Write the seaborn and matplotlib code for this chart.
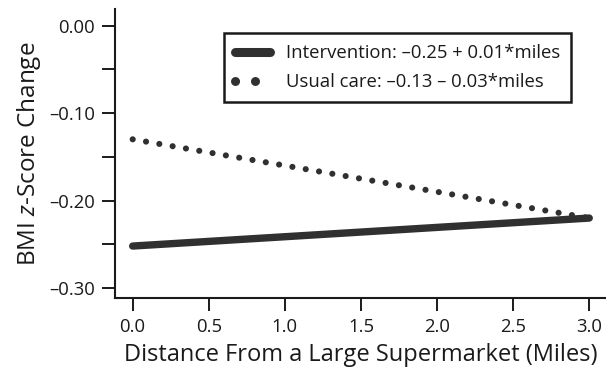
import numpy as np
import matplotlib
matplotlib.use("Agg")
import matplotlib.pyplot as plt
import seaborn as sns
import pandas as pd

# Data
miles = [0.0, 3.0]
intervention = [-0.252, -0.220]
usual_care = [-0.13, -0.22]
series_labels = ["Intervention: \u20130.25 + 0.01*miles", "Usual care: \u20130.13 \u2013 0.03*miles"]
xticks = [0.0, 0.5, 1.0, 1.5, 2.0, 2.5, 3.0]
xtick_labels = ["0.0", "0.5", "1.0", "1.5", "2.0", "2.5", "3.0"]
yticks = [0.0, -0.10, -0.20, -0.30]
ytick_labels = ["0.00", "\u20130.10", "\u20130.20", "\u20130.30"]
yminor = [-0.05, -0.15, -0.25]

sns.set_style("ticks")
plt.rcParams["font.family"] = ["Open Sans", "DejaVu Sans"]
plt.rcParams["mathtext.fontset"] = "custom"
plt.rcParams["mathtext.it"] = "Open Sans:italic"
plt.rcParams["mathtext.rm"] = "Open Sans"

df = pd.DataFrame({
    "miles": miles * 2,
    "bmi": intervention + usual_care,
    "group": [series_labels[0]] * 2 + [series_labels[1]] * 2,
})

fig = plt.figure(figsize=(6.06, 3.73), dpi=100)
ax = fig.add_axes([0.1898, 0.201, 0.8102, 0.775])

col = "#303030"
sns.lineplot(data=df[df.group == series_labels[0]], x="miles", y="bmi", ax=ax,
             color=col, linewidth=5.3, solid_capstyle="round", label=series_labels[0])
sns.lineplot(data=df[df.group == series_labels[1]], x="miles", y="bmi", ax=ax,
             color=col, linewidth=4.4, linestyle=(0, (0.01, 2.2)),
             dash_capstyle="round", label=series_labels[1])

ax.set_xlim(-0.116, 3.11)
ax.set_ylim(-0.3114, 0.019)
ax.set_xticks(xticks)
ax.set_xticklabels(xtick_labels)
ax.set_yticks(yticks)
ax.set_yticklabels(ytick_labels)
ax.set_yticks(yminor, minor=True)

for s in ["top", "right"]:
    ax.spines[s].set_visible(False)
for s in ["left", "bottom"]:
    ax.spines[s].set_linewidth(1.5)
    ax.spines[s].set_color("#1a1a1a")

ax.tick_params(axis="both", which="both", length=9.5, width=1.4, color="#1a1a1a",
               labelsize=13.3, labelcolor="#1a1a1a", direction="out")
ax.tick_params(axis="x", pad=5)
ax.tick_params(axis="y", pad=5)

ax.set_xlabel("Distance From a Large Supermarket (Miles)", fontsize=17, color="#1a1a1a", labelpad=5)
ax.set_ylabel("BMI $z$-Score Change", fontsize=17.5, color="#1a1a1a", labelpad=4)

leg = ax.legend(loc="upper left", bbox_to_anchor=(0.2225, 0.917), frameon=True, fancybox=False,
                framealpha=1.0, fontsize=13.3, handlelength=1.9, handletextpad=0.85, borderpad=0.6,
                labelspacing=0.6, borderaxespad=0)
leg.get_frame().set_edgecolor("#1a1a1a")
leg.get_frame().set_linewidth(1.8)
for t in leg.get_texts():
    t.set_color("#1a1a1a")
for ln in leg.get_lines():
    ln.set_linewidth(6.5)

fig.savefig("out.png", dpi=100)
